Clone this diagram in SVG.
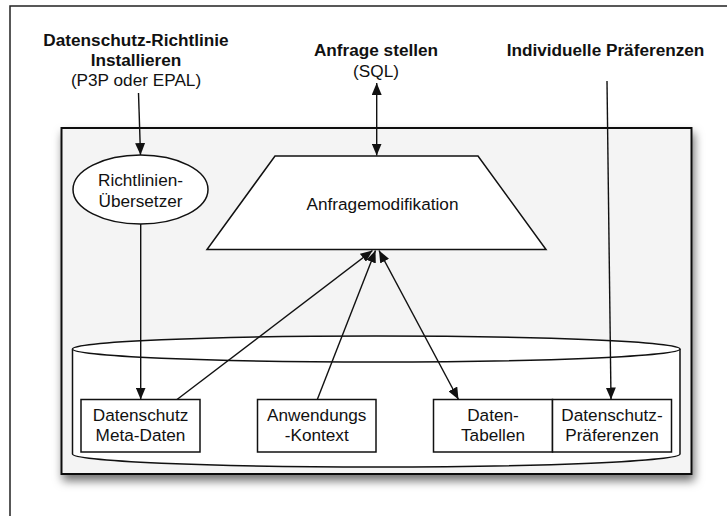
<svg xmlns="http://www.w3.org/2000/svg" width="727" height="516" viewBox="0 0 727 516">
<style>
text{font-family:"Liberation Sans",Arial,Helvetica,sans-serif;font-size:17.2px;fill:#111;text-anchor:middle}
.b{font-weight:bold}
.shape{fill:#fff;stroke:#111;stroke-width:1.5}
.conn{fill:none;stroke:#111;stroke-width:1.4}
</style>
<defs>
<marker id="ah" viewBox="0 0 12 10" refX="12" refY="5" markerWidth="12" markerHeight="10" markerUnits="userSpaceOnUse" orient="auto-start-reverse">
<path d="M0,0 L12,5 L0,10 Z" fill="#111"/>
</marker>
<filter id="sh" x="-10%" y="-10%" width="125%" height="130%">
<feDropShadow dx="2" dy="6" stdDeviation="5" flood-color="#000" flood-opacity="0.55"/>
</filter>
</defs>
<rect x="0" y="0" width="727" height="516" fill="#fff"/>
<rect id="page" x="10" y="6" width="800" height="600" fill="#fff" stroke="#222" stroke-width="1.5"/>
<g id="system">
<rect x="61.5" y="128" width="630" height="346" fill="#f4f4f4" stroke="#111" stroke-width="2" filter="url(#sh)"/>
</g>
<g id="labels">
<text class="b" x="136" y="45.5">Datenschutz-Richtlinie</text>
<text class="b" x="136" y="65.5">Installieren</text>
<text x="136" y="86">(P3P oder EPAL)</text>
<text class="b" x="376" y="56">Anfrage stellen</text>
<text x="376" y="77">(SQL)</text>
<text class="b" x="605.5" y="56">Individuelle Präferenzen</text>
</g>
<g id="datenbank">
<path class="shape" d="M72.5,349 L72.5,454 A303.5,13 0 0 0 680,454 L680,349"/>
<ellipse class="shape" cx="376.25" cy="349" rx="303.75" ry="13"/>
</g>
<g id="uebersetzer">
<ellipse class="shape" cx="140.5" cy="189.5" rx="67.5" ry="34.5"/>
<text x="140.5" y="186">Richtlinien-</text>
<text x="140.5" y="206.5">Übersetzer</text>
</g>
<g id="anfragemodifikation">
<polygon class="shape" points="275,156 478,156 546,249.5 207,249.5"/>
<text x="382.5" y="210">Anfragemodifikation</text>
</g>
<g id="metadaten">
<rect class="shape" x="81" y="399.5" width="119" height="52.5"/>
<text x="140.5" y="421">Datenschutz</text>
<text x="140.5" y="441">Meta-Daten</text>
</g>
<g id="kontext">
<rect class="shape" x="257.5" y="399.5" width="118.5" height="52.5"/>
<text x="316.75" y="421">Anwendungs</text>
<text x="316.75" y="441">-Kontext</text>
</g>
<g id="tabellen">
<rect class="shape" x="433.5" y="399.5" width="119" height="52.5"/>
<text x="493" y="421">Daten-</text>
<text x="493" y="441">Tabellen</text>
</g>
<g id="praeferenzen">
<rect class="shape" x="552.5" y="399.5" width="119" height="52.5"/>
<text x="612" y="421">Datenschutz-</text>
<text x="612" y="441">Präferenzen</text>
</g>
<g id="connectors">
<path class="conn" d="M138.5,93 L140.5,155" marker-end="url(#ah)"/>
<path class="conn" d="M376.7,83 L376.7,155.5" marker-start="url(#ah)" marker-end="url(#ah)"/>
<path class="conn" d="M607,81 L611,399.5" marker-end="url(#ah)"/>
<path class="conn" d="M140.7,224 L140.7,399.5" marker-end="url(#ah)"/>
<path class="conn" d="M177,399.5 L372.5,250.5" marker-end="url(#ah)"/>
<path class="conn" d="M317.3,399.5 L375.5,250.5" marker-end="url(#ah)"/>
<path class="conn" d="M379,250.5 L458.5,399.5" marker-start="url(#ah)" marker-end="url(#ah)"/>
</g>
</svg>
